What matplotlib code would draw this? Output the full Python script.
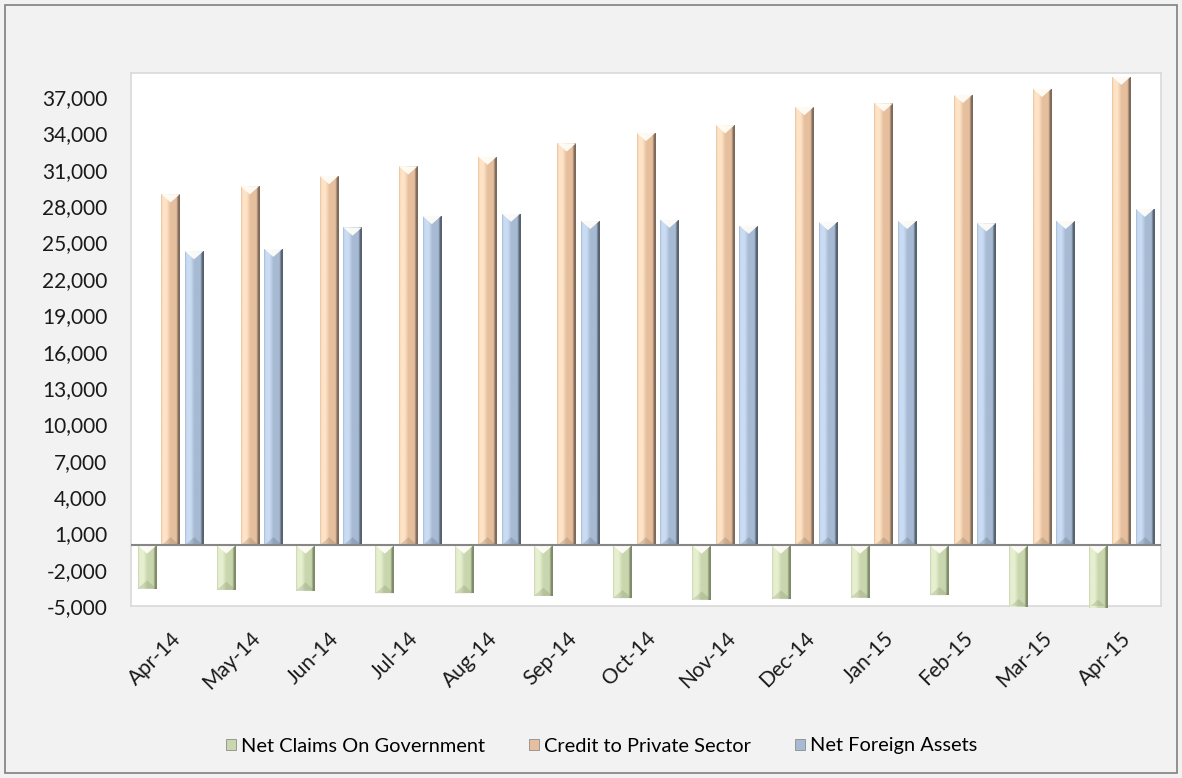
import matplotlib.pyplot as plt
import numpy as np
from matplotlib.colors import to_rgb
from matplotlib.patches import Polygon, Rectangle
from matplotlib.ticker import FuncFormatter

# Dados mensais (milhões)
meses = ['Apr-14', 'May-14', 'Jun-14', 'Jul-14', 'Aug-14', 'Sep-14', 'Oct-14',
         'Nov-14', 'Dec-14', 'Jan-15', 'Feb-15', 'Mar-15', 'Apr-15']
net_claims_gov = [-3560, -3670, -3730, -3950, -3950, -4170, -4360,
                  -4470, -4390, -4300, -4110, -5100, -5150]
credit_private = [29000, 29660, 30500, 31300, 32100, 33200, 34060,
                  34700, 36200, 36500, 37200, 37700, 38700]
net_foreign_assets = [24300, 24500, 26250, 27200, 27400, 26800, 26900,
                      26400, 26700, 26800, 26600, 26800, 27800]

series = [
    ("Net Claims On Government", net_claims_gov,
     {"base": "#C9D6AE", "claro": "#E6F0D0", "escuro": "#7F8A68"}),
    ("Credit to Private Sector", credit_private,
     {"base": "#E6C09E", "claro": "#FFE3C6", "escuro": "#7E6A5A"}),
    ("Net Foreign Assets", net_foreign_assets,
     {"base": "#A7BAD3", "claro": "#C9DCF3", "escuro": "#56626F"}),
]

plt.rcParams['font.family'] = ['Lato', 'DejaVu Sans']

fig = plt.figure(figsize=(11.82, 7.78), dpi=100, facecolor='#F2F2F2')
ax = fig.add_axes([131 / 1182, 1 - 606 / 778, 1030 / 1182, 533 / 778])
ax.set_facecolor('white')

x = np.arange(len(meses))
largura = 0.235
deslocamentos = [-0.297, 0.0, 0.297]
ymin, ymax = -5000, 39000
altura_bisel = 680


def gradiente(cores):
    # faixa horizontal: borda, brilho, face, sombra
    pos = [0.0, 0.08, 0.3, 0.5, 0.82, 0.92, 1.0]
    cs = [cores["base"], cores["claro"], cores["claro"], cores["base"],
          cores["base"], cores["escuro"], cores["escuro"]]
    t = np.linspace(0, 1, 64)
    rgb = np.array([to_rgb(c) for c in cs])
    cols = np.stack([np.interp(t, pos, rgb[:, k]) for k in range(3)], axis=-1)
    return cols[np.newaxis, :, :]


handles = []
for (nome, valores, cores), dx in zip(series, deslocamentos):
    barras = ax.bar(x + dx, valores, width=largura, color=cores["base"],
                    edgecolor='none', label=nome, zorder=2)
    handles.append(barras)
    img = gradiente(cores)
    for p in barras.patches:
        x0, y0 = p.get_x(), p.get_y()
        w, h = p.get_width(), p.get_height()
        y_baixo, y_cima = min(y0, y0 + h), max(y0, y0 + h)
        im = ax.imshow(img, extent=[x0, x0 + w, y_baixo, y_cima],
                       aspect='auto', zorder=3, interpolation='bilinear')
        im.set_clip_path(p)
        # bisel claro no topo, sombra na base
        ax.add_patch(Polygon([(x0, y_cima), (x0 + w, y_cima),
                              (x0 + w / 2, y_cima - altura_bisel)],
                             closed=True, facecolor='#FFFDF8', alpha=0.95,
                             edgecolor='none', zorder=4))
        ax.add_patch(Polygon([(x0, y_baixo), (x0 + w, y_baixo),
                              (x0 + w / 2, y_baixo + altura_bisel)],
                             closed=True, facecolor=cores["escuro"], alpha=0.25,
                             edgecolor='none', zorder=4))

ax.axhline(0, color='#868686', linewidth=1.5, zorder=5)

ax.set_xlim(-0.5, len(meses) - 0.5)
ax.set_ylim(ymin, ymax)
ax.set_yticks(np.arange(-5000, 38000, 3000))
ax.yaxis.set_major_formatter(FuncFormatter(lambda v, _: f"{int(v):,}"))
ax.set_xticks(x)
ax.set_xticklabels(meses, rotation=45, ha='right', va='top',
                   rotation_mode='anchor')
ax.tick_params(axis='y', length=0, pad=17, labelsize=15, labelcolor='#1A1A1A')
ax.tick_params(axis='x', length=0, pad=16, labelsize=15, labelcolor='#1A1A1A')

for s in ax.spines.values():
    s.set_color('#D9D9D9')
    s.set_linewidth(1.2)

leg = fig.legend(handles=handles, loc='center',
                 bbox_to_anchor=(602 / 1182, 1 - 746 / 778), ncol=3,
                 frameon=False, fontsize=14.4, handlelength=0.5,
                 handleheight=0.5, handletextpad=0.25, columnspacing=2.2)
for h in leg.legend_handles:
    h.set_edgecolor('#8C8C8C')
    h.set_linewidth(0.6)

# moldura externa do gráfico
fig.patches.append(Rectangle((5 / 1182, 5 / 778), 1172 / 1182, 768 / 778,
                             transform=fig.transFigure, fill=False,
                             edgecolor='#7F7F7F', linewidth=1.2))

fig.savefig('out.png', dpi=100, facecolor=fig.get_facecolor())
